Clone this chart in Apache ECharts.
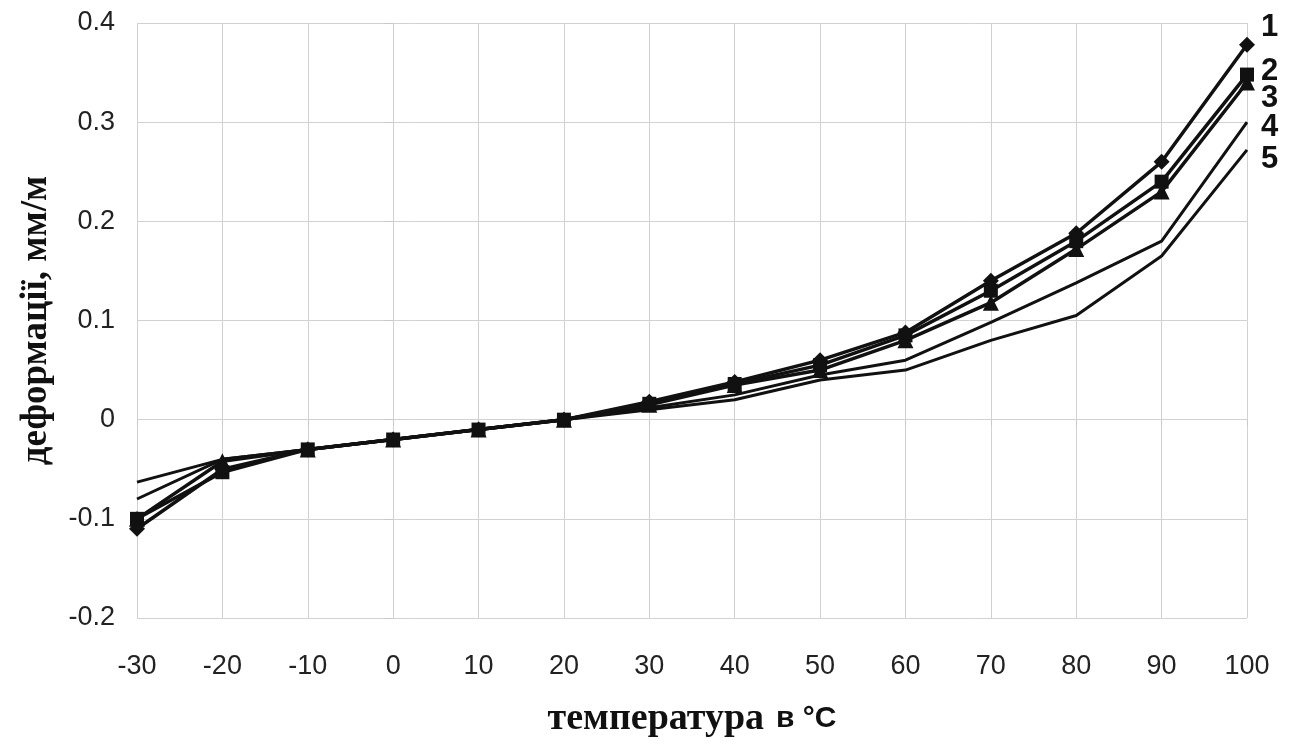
<!DOCTYPE html>
<html>
<head>
<meta charset="utf-8">
<script src="https://cdn.jsdelivr.net/npm/echarts@6/dist/echarts.min.js"></script>
<style>
html,body{margin:0;padding:0;background:#fff;}
#chart{width:1291px;height:744px;}
</style>
</head>
<body>
<div id="chart"></div>
<script>
const temps = [-30,-20,-10,0,10,20,30,40,50,60,70,80,90,100];
const series1 = [-0.11,-0.05,-0.03,-0.02,-0.01,0,0.018,0.038,0.06,0.088,0.14,0.188,0.26,0.378];
const series2 = [-0.10,-0.053,-0.03,-0.02,-0.01,0,0.016,0.036,0.055,0.085,0.13,0.18,0.24,0.348];
const series3 = [-0.10,-0.042,-0.03,-0.02,-0.01,0,0.015,0.035,0.05,0.08,0.118,0.172,0.23,0.34];
const series4 = [-0.08,-0.04,-0.03,-0.02,-0.01,0,0.012,0.025,0.045,0.06,0.098,0.138,0.18,0.30];
const series5 = [-0.063,-0.04,-0.03,-0.02,-0.01,0,0.01,0.02,0.04,0.05,0.08,0.105,0.165,0.272];
const seriesNames = ['1','2','3','4','5'];
const xTitleMain = 'температура';
const xTitleUnit = 'в °C';
const yTitle = 'деформації, мм/м';

const pairs = arr => temps.map((t,i)=>[t,arr[i]]);
const all = [series1,series2,series3,series4,series5];
const symbols = ['diamond','rect','triangle','none','none'];
const symSizes = [16,14,16,0,0];
const widths = [3.5,3.5,3.5,3,3];
const labelOffsets = [[0,-17],[0,-3],[0,16],[0,5],[0,10]];

const chart = echarts.init(document.getElementById('chart'));
chart.setOption({
  backgroundColor:'#ffffff',
  animation:false,
  grid:{left:137,right:44,top:23,bottom:126,containLabel:false},
  xAxis:{
    type:'value',min:-30,max:100,interval:10,
    name:'{a|'+xTitleMain+'}{b|'+xTitleUnit+'}',nameLocation:'middle',nameGap:82,
    nameTextStyle:{color:'#111',rich:{
      a:{fontFamily:'Liberation Serif',fontWeight:'bold',fontSize:38,color:'#111'},
      b:{fontFamily:'Liberation Sans',fontWeight:'bold',fontSize:30,color:'#111',padding:[0,0,0,12]}
    }},
    axisLine:{show:false},
    axisTick:{show:true,length:6,lineStyle:{color:'#c8c8c8'}},
    axisLabel:{fontFamily:'Liberation Sans',fontSize:27,color:'#222',margin:35},
    splitLine:{show:true,lineStyle:{color:'#d2d2d2',width:1}}
  },
  yAxis:{
    type:'value',min:-0.2,max:0.4,interval:0.1,
    name:yTitle,nameLocation:'middle',nameGap:82,
    nameTextStyle:{fontFamily:'Liberation Serif',fontWeight:'bold',fontSize:37,color:'#111'},
    axisLine:{show:false},
    axisTick:{show:true,length:9,lineStyle:{color:'#c8c8c8'}},
    axisLabel:{fontFamily:'Liberation Sans',fontSize:27,color:'#222',margin:22,
      formatter:v=>{const r=Math.round(v*10)/10; return String(r);}},
    splitLine:{show:true,lineStyle:{color:'#d2d2d2',width:1}}
  },
  series: all.map((arr,i)=>({
    name:seriesNames[i],
    type:'line',
    data:pairs(arr),
    symbol:symbols[i],
    symbolSize:symSizes[i],
    showSymbol:symbols[i]!=='none',
    lineStyle:{color:'#111',width:widths[i]},
    itemStyle:{color:'#111'},
    z:10-i,
    endLabel:{show:true,formatter:seriesNames[i],distance:14,offset:labelOffsets[i],
      fontFamily:'Liberation Sans',fontWeight:'bold',fontSize:31,color:'#111'}
  }))
});
</script>
</body>
</html>
